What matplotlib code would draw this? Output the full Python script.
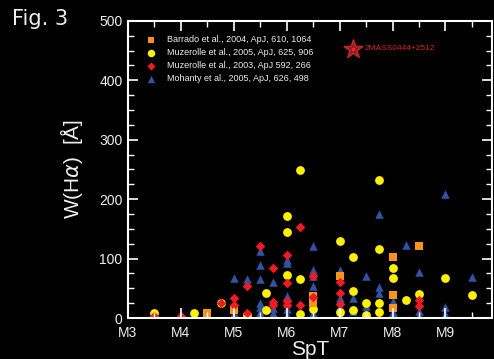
import numpy as np
from matplotlib import pyplot as plt

# Barrado et al. 2004
barrado_spt = [4.5, 5.0, 6.5, 6.5, 7.0, 8.0, 8.0, 8.0, 8.5]
barrado_w = [8, 13, 37, 26, 71, 102, 38, 17, 122]

# Muzerolle et al. 2005
muz05_spt = [3.5, 4.25, 4.75, 5.25, 5.6, 5.6, 6.0, 6.0, 6.0, 6.25, 6.25, 6.25, 6.5, 7.0, 7.0,
             7.25, 7.25, 7.25, 7.5, 7.5, 7.75, 7.75, 7.75, 7.75, 8.0, 8.0, 8.25, 8.5, 9.0, 9.5]
muz05_w = [9, 8, 25, 5, 42, 14, 172, 144, 72, 249, 66, 7, 15, 129, 10,
           102, 46, 13, 26, 5, 233, 117, 26, 10, 85, 67, 30, 40, 67, 38]

# Muzerolle et al. 2003
muz03_spt = [3.5, 3.5, 4.0, 4.75, 5.0, 5.0, 5.25, 5.25, 5.5, 5.75, 5.75, 5.75, 6.0, 6.0, 6.0, 6.0,
             6.25, 6.25, 6.5, 6.5, 7.0, 7.0, 7.0, 8.5, 8.5]
muz03_w = [4, 1, 4, 25, 34, 22, 54, 9, 121, 85, 27, 22, 106, 59, 29, 22,
           153, 22, 70, 36, 60, 43, 24, 31, 21]

# Mohanty et al. 2005
moh_spt = [4.25, 5.0, 5.0, 5.0, 5.25, 5.5, 5.5, 5.5, 5.5, 5.5, 5.5, 5.5, 5.75, 5.75, 5.75,
           6.0, 6.0, 6.0, 6.0, 6.0, 6.0, 6.25, 6.5, 6.5, 6.5, 6.5, 6.5, 7.0, 7.0, 7.0, 7.0, 7.0,
           7.25, 7.25, 7.5, 7.5, 7.5, 7.75, 7.75, 7.75, 8.0, 8.0, 8.0, 8.25, 8.5, 8.5, 8.5,
           9.0, 9.0, 9.0, 9.5]
moh_w = [5, 68, 18, 8, 66, 112, 90, 66, 25, 19, 11, 5, 60, 17, 8,
         98, 93, 37, 25, 15, 6, 5, 121, 81, 70, 54, 8, 81, 33, 19, 12, 5,
         33, 12, 71, 20, 9, 175, 53, 43, 29, 11, 5, 123, 78, 12, 4,
         208, 18, 7, 69]

# 2MASS0444+2512
star_spt = [7.25]
star_w = [453]

spt_ticks = [3, 4, 5, 6, 7, 8, 9]
spt_labels = ['M3', 'M4', 'M5', 'M6', 'M7', 'M8', 'M9']

plt.rcParams['font.family'] = ['Liberation Sans', 'DejaVu Sans']
fg = '#eeeeee'

fig = plt.figure(figsize=(4.94, 3.59), dpi=100, facecolor='black')
ax = fig.add_axes([0.259, 0.114, 0.737, 0.828], facecolor='black')

ax.scatter(moh_spt, moh_w, marker='^', s=38, color='#3053a3', lw=0, label='Mohanty et al., 2005, ApJ, 626, 498', zorder=1)
ax.scatter(muz05_spt, muz05_w, marker='o', s=40, color='#fff000', lw=0, label='Muzerolle et al., 2005, ApJ, 625, 906', zorder=1.1)
ax.scatter(barrado_spt, barrado_w, marker='s', s=30, color='#f7941d', lw=0, label='Barrado et al., 2004, ApJ, 610, 1064', zorder=1.2)
ax.scatter(muz03_spt, muz03_w, marker='D', s=24, color='#ed1c24', lw=0, label='Muzerolle et al., 2003, ApJ 592, 266', zorder=1.3)
ax.scatter(star_spt, star_w, marker='*', s=190, facecolor='#7a1e1e', edgecolor='#c4262c', lw=1.2, zorder=2)
ax.scatter(star_spt, star_w, marker='o', s=8, color='#ff2020', lw=0, zorder=2.1)
ax.text(7.48, 453, '2MASS0444+2512', color='#d8232a', fontsize=6, va='center')

ax.set_xlim(3, 9.88)
ax.set_ylim(0, 500)
ax.set_xticks(spt_ticks)
ax.set_xticklabels(spt_labels)
ax.set_xticks(np.arange(3.5, 9.9, 0.5), minor=True)
ax.set_yticks([0, 100, 200, 300, 400, 500])
ax.set_yticks(np.arange(0, 501, 25), minor=True)

for s in ax.spines.values():
    s.set_color('white')
    s.set_linewidth(1.5)
ax.tick_params(which='both', direction='in', colors='white', top=True, right=True, labelsize=10, labelcolor=fg, pad=4)
ax.tick_params(axis='x', which='major', pad=6)
ax.tick_params(which='major', length=7, width=1.2)
ax.tick_params(which='minor', length=4, width=1.0)

ax.set_xlabel('SpT', color=fg, fontsize=15, labelpad=0)
ax.set_ylabel('W(H$\\alpha$)  [Å]', color=fg, fontsize=15, labelpad=10)

h, l = ax.get_legend_handles_labels()
order = [2, 1, 3, 0]
leg = ax.legend([h[i] for i in order], [l[i] for i in order], loc='upper left', frameon=False,
                fontsize=6.5, labelcolor=fg, handletextpad=0.7, borderaxespad=1.2, labelspacing=0.45,
                markerscale=0.85)

fig.text(0.025, 0.93, 'Fig. 3', color=fg, fontsize=15, family='DejaVu Sans')

plt.savefig('out.png', dpi=100, facecolor='black')
